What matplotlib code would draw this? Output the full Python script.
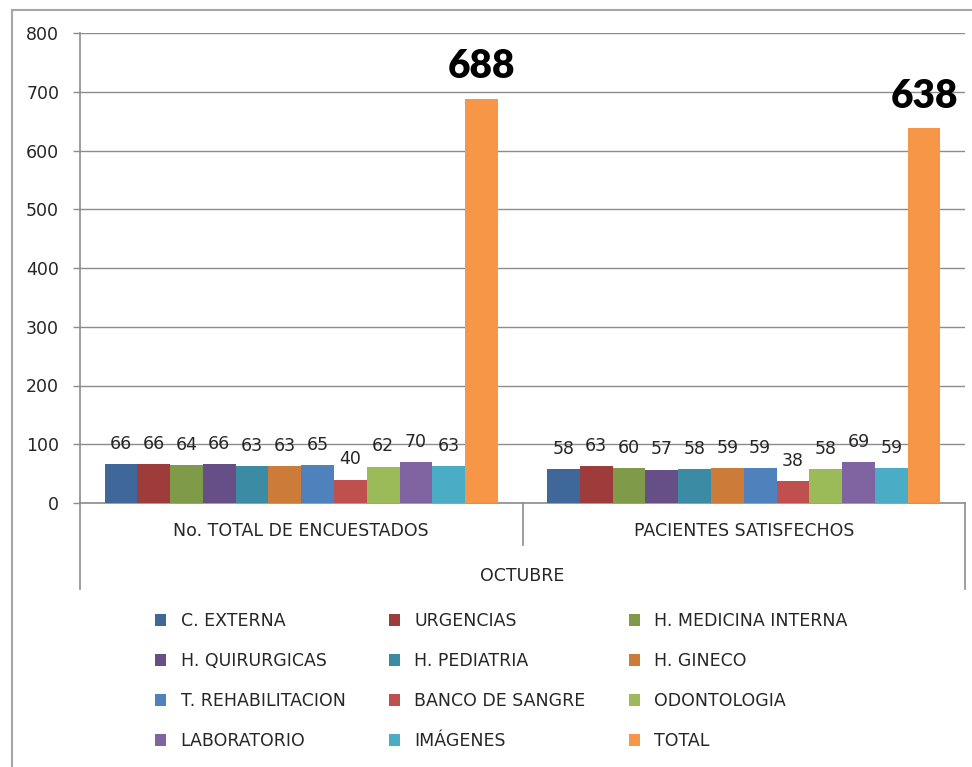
import matplotlib
matplotlib.use("Agg")
import matplotlib.pyplot as plt
from matplotlib.patches import Patch, Rectangle
import matplotlib.transforms as mtransforms
import numpy as np

groups = ["No. TOTAL DE ENCUESTADOS", "PACIENTES SATISFECHOS"]
super_group = "OCTUBRE"
series = ["C. EXTERNA", "URGENCIAS", "H. MEDICINA INTERNA", "H. QUIRURGICAS",
          "H. PEDIATRIA", "H. GINECO", "T. REHABILITACION", "BANCO DE SANGRE",
          "ODONTOLOGIA", "LABORATORIO", "IMÁGENES", "TOTAL"]
encuestados = [66, 66, 64, 66, 63, 63, 65, 40, 62, 70, 63, 688]
satisfechos = [58, 63, 60, 57, 58, 59, 59, 38, 58, 69, 59, 638]
colors = ["#3F679A", "#9D3C3A", "#7F9A48", "#664F87", "#3A8BA3", "#CC7B38",
          "#4F81BD", "#C0504D", "#9BBB59", "#8064A2", "#4BACC6", "#F79646"]
yticks = [0, 100, 200, 300, 400, 500, 600, 700, 800]

plt.rcParams['font.family'] = ['DejaVu Sans']
W, H = 972, 767
fig = plt.figure(figsize=(W / 100, H / 100), dpi=100)
fig.patch.set_facecolor("white")

# outer frame
fig.add_artist(Rectangle((12 / W, -0.05), 1.2, 1 - 10 / H + 0.05, transform=fig.transFigure,
                         fill=False, edgecolor="#a6a6a6", linewidth=1.5))

left, right, bottom, top = 80 / W, 965 / W, 1 - 503 / H, 1 - 33 / H
ax = fig.add_axes([left, bottom, right - left, top - bottom])

gray = "#8c8c8c"
txt = "#262626"
fs = 12.5
n = len(series)
w = 1 / 13.5
x = np.arange(len(groups))
values = np.array([encuestados, satisfechos])
for i in range(n):
    pos = x - 6 * w + (i + 0.5) * w
    bars = ax.bar(pos, values[:, i], width=w, color=colors[i], linewidth=0, label=series[i], zorder=3)
    for b, v in zip(bars, values[:, i]):
        cx = b.get_x() + b.get_width() / 2
        if series[i] == "TOTAL":
            ax.annotate(str(v), (cx, v), xytext=(0, 23), textcoords="offset points",
                        ha="center", va="center", fontsize=28, fontweight="heavy",
                        family=["Lato", "DejaVu Sans"], color="black")
        else:
            ax.annotate(str(v), (cx, v), xytext=(0, 14.5), textcoords="offset points",
                        ha="center", va="center", fontsize=fs, color=txt)

ax.set_xlim(-0.5, 1.5)
ax.set_ylim(0, 800)
ax.set_yticks(yticks)
ax.set_yticklabels([str(t) for t in yticks], fontsize=fs, color=txt)
ax.tick_params(axis="y", direction="out", length=5, width=1, color=gray, pad=10)
ax.set_xticks([])
ax.grid(axis="y", color=gray, linewidth=1.0, zorder=0)
for s in ["top", "right"]:
    ax.spines[s].set_visible(False)
ax.spines["left"].set_color(gray)
ax.spines["bottom"].set_color(gray)
ax.spines["left"].set_linewidth(1.2)
ax.spines["bottom"].set_linewidth(1.2)

# multi-level category axis
trans = mtransforms.blended_transform_factory(ax.transData, fig.transFigure)
def fy(py):
    return 1 - py / H
for xv, yend in [(-0.5, 589), (0.5, 545), (1.5, 589)]:
    ax.plot([xv, xv], [fy(503), fy(yend)], transform=trans, color=gray, lw=1.2, clip_on=False)
for xi, g in zip(x, groups):
    ax.text(xi, fy(531), g, transform=trans, ha="center", va="center", fontsize=fs, color=txt)
ax.text(0.5, fy(576), super_group, transform=trans, ha="center", va="center", fontsize=fs, color=txt)

# legend (row-major order)
handles = [Patch(facecolor=c, edgecolor="none") for c in colors]
order = [i for c in range(3) for i in range(c, n, 3)]
fig.legend([handles[i] for i in order], [series[i] for i in order], ncol=3,
           loc="upper left", bbox_to_anchor=(155 / W, 1 - 612 / H), frameon=False,
           fontsize=fs, handlelength=0.62, handleheight=0.62, handletextpad=0.85,
           columnspacing=2.5, labelspacing=1.27, borderpad=0, borderaxespad=0,
           labelcolor=txt)

fig.savefig("out.png", dpi=100)
